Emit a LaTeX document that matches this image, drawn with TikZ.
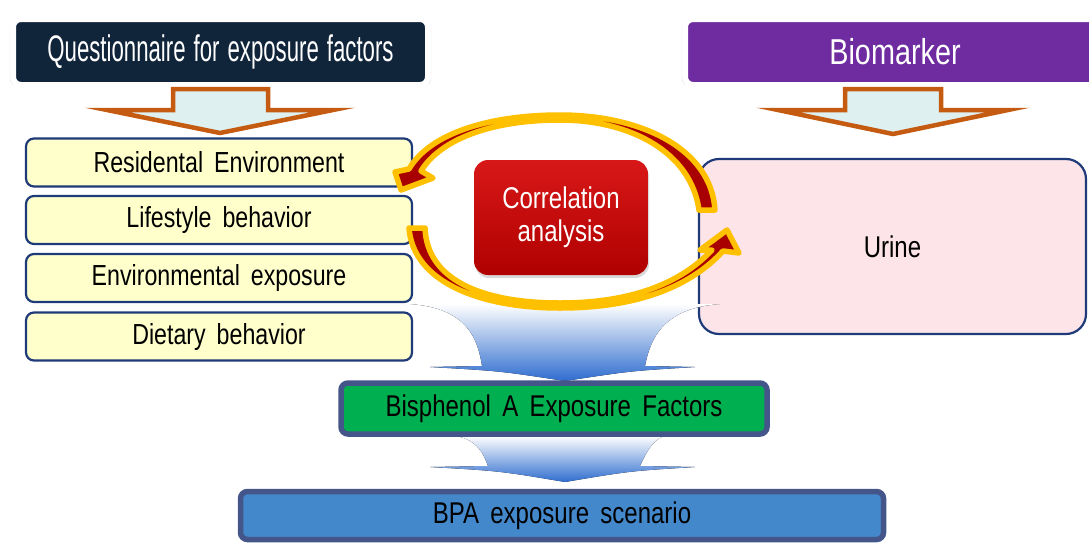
\documentclass[tikz,border=0pt]{standalone}
\usepackage{fontspec}
\setmainfont{Liberation Sans}[FakeStretch=0.8,WordSpace=1.7]
\newfontfamily\titlefont{Liberation Sans}[FakeStretch=0.6,WordSpace=1.3]
\usetikzlibrary{shadows}

\definecolor{navy}{HTML}{10243A}
\definecolor{purp}{HTML}{6E2CA0}
\definecolor{rust}{HTML}{C55A11}
\definecolor{palecyan}{HTML}{DEF0F0}
\definecolor{lemon}{HTML}{FFFFCC}
\definecolor{boxline}{HTML}{1F3A78}
\definecolor{rosy}{HTML}{FDE4E8}
\definecolor{gold}{HTML}{FFC000}
\definecolor{darkred}{HTML}{A80000}
\definecolor{corrtop}{HTML}{D81818}
\definecolor{corrbot}{HTML}{B00000}
\definecolor{funnel}{HTML}{2F6DCF}
\definecolor{slate}{HTML}{44558A}
\definecolor{leaf}{HTML}{00B050}
\definecolor{sky}{HTML}{4488CC}

\tikzset{
	header/.style={draw=white, line width=6pt, rounded corners=8pt, text=white,
		drop shadow={opacity=0.3, shadow xshift=0pt, shadow yshift=-1pt, shadow scale=1.015}},
	blockarrow/.style={draw=rust, line width=4.5pt, fill=palecyan},
	factor/.style={draw=boxline, line width=2.2pt, fill=lemon, rounded corners=8pt,
		minimum width=386pt, minimum height=48pt, font=\fontsize{29}{29}\selectfont},
	curvearrow/.style={draw=gold, line width=5.5pt, fill=darkred, line join=round},
	funnelarrow/.style={top color=white, bottom color=funnel, draw=none},
	result/.style={draw=slate, line width=5.5pt, rounded corners=7pt, font=\fontsize{30}{30}\selectfont}
}

\begin{document}
\begin{tikzpicture}[x=1pt, y=-1pt]

	\useasboundingbox (0,0) rectangle (1089,544);

	% headers
	\node [header, fill=navy, minimum width=415pt, minimum height=66pt,
		font=\titlefont\fontsize{37}{37}\selectfont] (quest) at (220.5,52) {Questionnaire for exposure factors};
	\node [header, fill=purp, minimum width=420pt, minimum height=66pt,
		font=\fontsize{36}{36}\selectfont] (bio) at (895,52) {Biomarker};

	% questionnaire items
	\node [factor] (resid) at (219,162.5) {Residental Environment};
	\node [factor] (life) at (219,220) {Lifestyle behavior};
	\node [factor] (envir) at (219,278) {Environmental exposure};
	\node [factor] (diet) at (219,336.5) {Dietary behavior};

	\node [draw=boxline, line width=2.2pt, fill=rosy, rounded corners=20pt,
		minimum width=387pt, minimum height=175pt, font=\fontsize{30}{30}\selectfont] (urine) at (892.5,246.5) {Urine};

	% down arrows under the headers
	\draw [blockarrow] (173,89) -- (268,89) -- (268,110) -- (333,110) -- (220,133) -- (107,110) -- (173,110) -- cycle;
	\draw [blockarrow] (845,89) -- (941,89) -- (941,110) -- (1008,110) -- (893,134) -- (778,110) -- (845,110) -- cycle;

	% funnels
	\fill [funnelarrow] (410,304) .. controls (468,308) and (478,340) .. (482,366) -- (430,367)
		.. controls (500,371) .. (565,381) .. controls (630,371) .. (695,367) -- (645,366)
		.. controls (650,340) and (662,308) .. (720,304) -- cycle;
	\fill [funnelarrow] (456,436) .. controls (478,440) and (484,455) .. (488,466) -- (430,467)
		.. controls (500,471) .. (565,482) .. controls (630,471) .. (695,467) -- (640,466)
		.. controls (645,455) and (652,440) .. (664,436) -- cycle;

	% results
	\node [result, fill=leaf, minimum width=426pt, minimum height=51pt] (bpa) at (554,408.5) {Bisphenol A Exposure Factors};
	\node [result, fill=sky, minimum width=643pt, minimum height=48pt] (scen) at (562,515.5) {BPA exposure scenario};

	% correlation
	\node [top color=corrtop, bottom color=corrbot, rounded corners=14pt, minimum width=174pt, minimum height=115pt,
		text=white, align=center, font=\fontsize{30}{33}\selectfont,
		drop shadow={opacity=0.3, shadow xshift=1pt, shadow yshift=-3pt}] (corr) at (561,217.5) {Correlation\\analysis};

	\draw [curvearrow] (699,210) .. controls (691,152) and (630,120) .. (560,120)
		.. controls (490,120) and (440,140) .. (421,171) -- (433,178) -- (401,190) -- (395,172) -- (409,169)
		.. controls (430,133) and (490,115) .. (560,115) .. controls (640,115) and (711,148) .. (715,210) -- cycle;
	\draw [curvearrow] (409,228) .. controls (413,282) and (480,308) .. (560,308)
		.. controls (640,308) and (692,285) .. (723,251) -- (739,253) -- (727,230) -- (700,250) -- (712,250)
		.. controls (680,284) and (630,303) .. (560,303) .. controls (482,303) and (427,280) .. (425,228) -- cycle;

\end{tikzpicture}
\end{document}
